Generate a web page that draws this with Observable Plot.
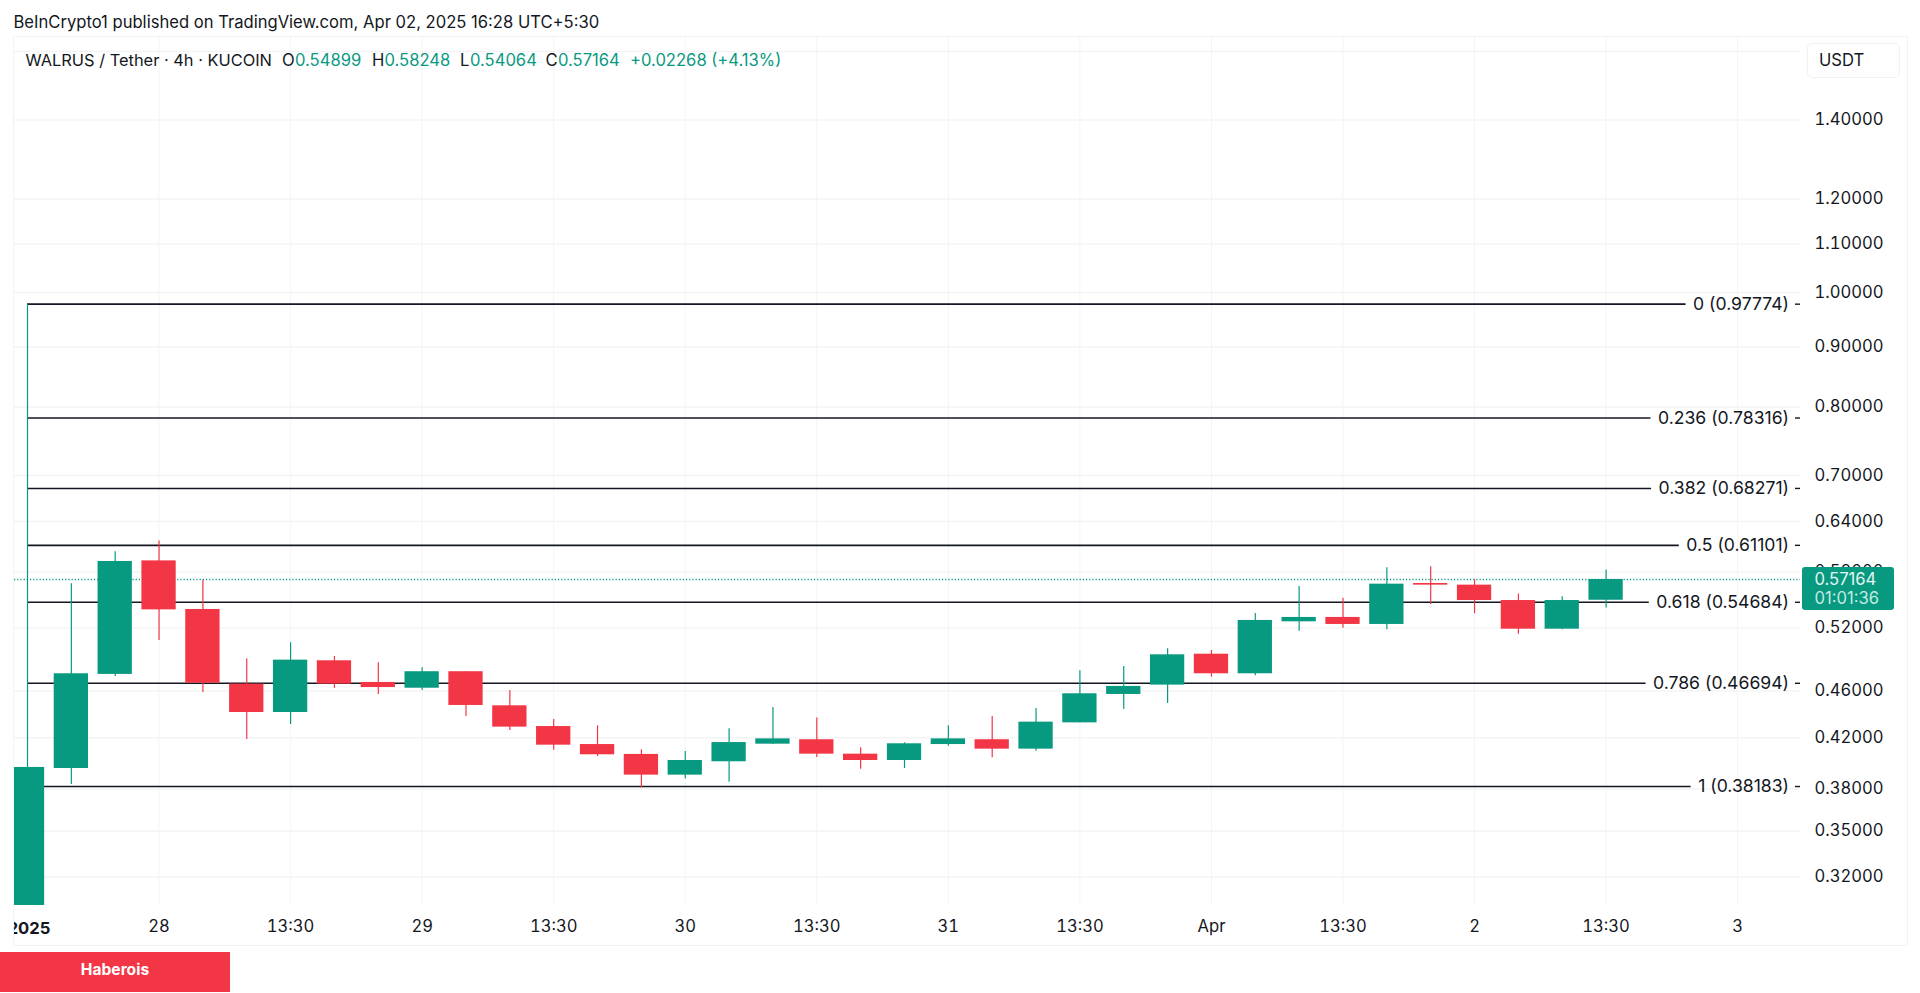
<!DOCTYPE html>
<html>
<head>
<meta charset="utf-8">
<script src="https://cdn.jsdelivr.net/npm/d3@7"></script>
<script src="https://cdn.jsdelivr.net/npm/@observablehq/plot@0.6"></script>
<style>
html,body{margin:0;padding:0;background:#fff;width:1920px;height:993px;overflow:hidden;font-family:Inter,"Noto Sans",sans-serif;color:#131722}
#head{position:absolute;left:13.5px;top:12px;font-size:16.6px;line-height:20px;white-space:nowrap}
#panel{position:absolute;left:14px;top:37px;width:1893px;height:908px;overflow:hidden;outline:1px solid #f2f3f4}
#panel svg{overflow:hidden}
.leg{position:absolute;top:50px;font-size:16.6px;line-height:20px;white-space:nowrap}
#unit{position:absolute;left:1807px;top:43px;width:93px;height:35px;box-sizing:border-box;border:1px solid #f1f2f3;border-radius:5px;background:#fff;font-size:16.6px;line-height:33px;padding-left:11px}
#badge{position:absolute;left:0;top:952px;width:230px;height:40px;background:#f23645;color:#fff;font-weight:700;font-size:15.6px;line-height:36px;text-align:center}
</style>
</head>
<body>
<div id="head">BeInCrypto1 published on TradingView.com, Apr 02, 2025 16:28 UTC+5:30</div>
<div id="panel"></div>
<div id="unit">USDT</div>
<div id="badge">Haberois</div>
<script>
// 4h candles, one entry per bar
const opens  = [0.30,0.3955,0.4751,0.5928,0.5392,0.4662,0.4411,0.4879,0.4677,0.4625,0.4776,0.4469,0.4292,0.4144,0.4065,0.3904,0.4007,0.4147,0.4183,0.4067,0.4017,0.4144,0.4183,0.4107,0.4323,0.4569,0.4653,0.4942,0.4757,0.5264,0.5309,0.5237,0.5672,0.5654,0.5487,0.5189,0.54899];
const highs  = [0.97774,0.5669,0.6033,0.6161,0.5706,0.4897,0.5053,0.4920,0.4860,0.4813,0.4776,0.4604,0.4351,0.4298,0.4102,0.4088,0.4273,0.4455,0.4363,0.4118,0.4158,0.4298,0.4376,0.4445,0.4785,0.4825,0.4994,0.4978,0.5350,0.5639,0.5512,0.5848,0.5860,0.5713,0.5556,0.5527,0.58248];
const lows   = [0.30,0.3834,0.4732,0.5076,0.4587,0.4185,0.4309,0.4623,0.4569,0.4604,0.4376,0.4259,0.4099,0.4049,0.3808,0.3874,0.3851,0.4144,0.4040,0.3950,0.3955,0.4131,0.4038,0.4091,0.4323,0.4437,0.4489,0.4725,0.4738,0.5169,0.5199,0.5183,0.5445,0.5347,0.5139,0.5183,0.54064];
const closes = [0.3963,0.4757,0.5921,0.5388,0.4670,0.4411,0.4885,0.4662,0.4631,0.4776,0.4472,0.4287,0.4139,0.4062,0.3904,0.4017,0.4160,0.4190,0.4067,0.4017,0.4150,0.4190,0.4107,0.4329,0.4575,0.4641,0.4936,0.4757,0.5278,0.5309,0.5237,0.5665,0.5654,0.5487,0.5189,0.5487,0.57164];

// Fibonacci retracement levels
const fibRatios = ["0","0.236","0.382","0.5","0.618","0.786","1"];
const fibPrices = [0.97774,0.78316,0.68271,0.61101,0.54684,0.46694,0.38183];

// Axes
const priceTicks = [1.4,1.2,1.1,1.0,0.9,0.8,0.7,0.64,0.58,0.52,0.46,0.42,0.38,0.35,0.32];
const extraGridPrices = [1.6];
const timeBars   = [3,6,9,12,15,18,21,24,27,30,33,36,39];
const timeLabels = ["28","13:30","29","13:30","30","13:30","31","13:30","Apr","13:30","2","13:30","3"];
const yearLabel  = "2025";
const lastPrice  = 0.57164;
const countdown  = "01:01:36";

// Legend row
const legendText = ["WALRUS / Tether · 4h · KUCOIN","O","0.54899","H","0.58248","L","0.54064","C","0.57164","+0.02268 (+4.13%)"];
const legendLeft = [25.5,282,295,372,384.5,460,470,545.5,558,630];

const UP = "#089981", DOWN = "#f23645", INK = "#131722", GRID = "#f3f4f5";
const BAR_PX = 43.85, PLOT_W = 1786, Y_PX = 513;
const FIB_FONT = 17.6, AXIS_FONT = 16.6;
const xLeft = -13 / BAR_PX, xRight = xLeft + PLOT_W / BAR_PX;
const halfBody = 0.391;
const px = n => n / BAR_PX;
const priceAt = (p, d) => p * Math.exp(-d / Y_PX);

const candles = opens.map((o, i) => ({i, o, h: highs[i], l: lows[i], c: closes[i], up: closes[i] >= o}));
const measure = document.createElement("canvas").getContext("2d");
measure.font = `${FIB_FONT}px Inter`;
const fibs = fibPrices.map((p, k) => ({p, label: `${fibRatios[k]} (${p.toFixed(5)})`}));
fibs.forEach(d => d.end = xRight - px(measure.measureText(d.label).width + 18.5));

const plot = Plot.plot({
  width: 1893, height: 908,
  marginLeft: 0, marginRight: 107, marginTop: 0, marginBottom: 40,
  style: {background: "#fff", fontFamily: "Inter, sans-serif"},
  x: {type: "linear", domain: [xLeft, xRight]},
  y: {type: "log", domain: [0.3028, 1.6443]},
  marks: [
    Plot.gridX(timeBars, {stroke: GRID, strokeOpacity: 1, strokeWidth: 1}),
    Plot.gridY([...priceTicks, ...extraGridPrices], {stroke: GRID, strokeOpacity: 1, strokeWidth: 1.5}),
    Plot.axisX({ticks: timeBars, tickFormat: b => timeLabels[timeBars.indexOf(b)], tickSize: 0, tickPadding: 15, fontSize: AXIS_FONT, fill: INK, label: null}),
    Plot.axisY({anchor: "right", ticks: priceTicks, tickFormat: d3.format(".5f"), tickSize: 0, tickPadding: 14, fontSize: AXIS_FONT, fill: INK, label: null}),
    Plot.text([yearLabel], {x: 0, frameAnchor: "bottom", dy: 28, dx: 1.5, text: d => d, fontSize: AXIS_FONT, fontWeight: 700, fill: INK}),
    Plot.ruleY([lastPrice], {stroke: UP, strokeWidth: 1.5, strokeDasharray: "1.2 2"}),
    Plot.ruleY(fibs, {y: "p", x1: 0, x2: "end", stroke: INK, strokeWidth: 1.6}),
    Plot.ruleY(fibs, {y: "p", x1: xRight - px(5), x2: xRight, stroke: INK, strokeWidth: 1.4}),
    Plot.text(fibs, {y: "p", text: "label", frameAnchor: "right", textAnchor: "end", dx: -11.5, fontSize: FIB_FONT, fill: INK}),
    Plot.ruleX(candles, {x: "i", y1: "l", y2: "h", stroke: d => d.up ? UP : DOWN, strokeWidth: 1.2, clip: true}),
    Plot.rect(candles, {x1: d => d.i - halfBody, x2: d => d.i + halfBody, y1: d => Math.min(d.o, d.c), y2: d => Math.max(d.o, d.c), fill: d => d.up ? UP : DOWN, clip: true}),
    Plot.rect([lastPrice], {x1: xRight + px(2), x2: xRight + px(94), y1: d => priceAt(d, 31), y2: d => priceAt(d, -12), fill: UP, rx: 3}),
    Plot.text([lastPrice], {y: d => d, text: d => d.toFixed(5), frameAnchor: "right", textAnchor: "start", dx: 14, fontSize: AXIS_FONT, fill: "#e6f6f2"}),
    Plot.text([lastPrice], {y: d => d, text: () => countdown, frameAnchor: "right", textAnchor: "start", dx: 14, dy: 19, fontSize: AXIS_FONT, fill: "#c4ebe2"})
  ]
});
document.getElementById("panel").append(plot);

legendText.forEach((t, k) => {
  const s = document.createElement("span");
  s.className = "leg";
  s.textContent = t;
  s.style.left = legendLeft[k] + "px";
  if (k === 0) s.style.fontSize = "16.4px";
  s.style.color = (k === 0 || k === 1 || k === 3 || k === 5 || k === 7) ? INK : UP;
  document.body.append(s);
});
</script>
</body>
</html>
